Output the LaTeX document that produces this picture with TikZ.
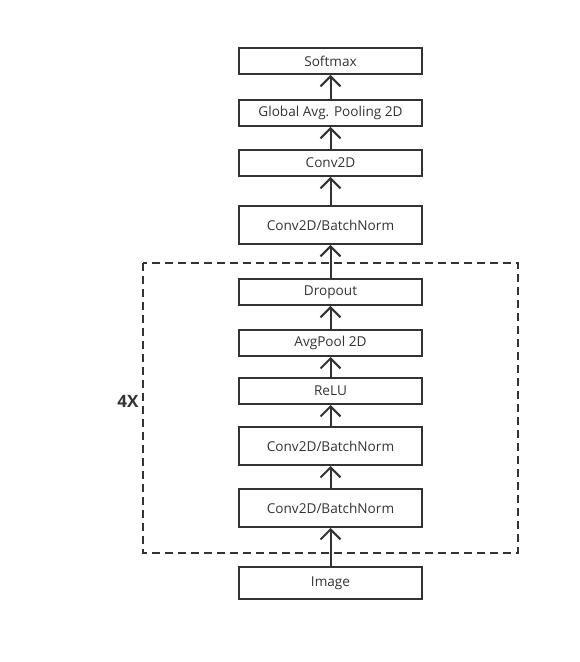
\documentclass[tikz,border=0pt]{standalone}
\usepackage{fontspec}
\setmainfont{Open Sans}
\usetikzlibrary{arrows.meta}
\definecolor{ink}{HTML}{333333}
\tikzset{
  layer/.style={draw=ink, line width=2pt, minimum width=183pt, inner sep=0pt, text=ink, font=\fontsize{13.6}{16}\selectfont},
  flow/.style={draw=ink, line width=2pt, -{Straight Barb[length=10pt,width=20pt]}}
}
\begin{document}
\begin{tikzpicture}[x=1pt,y=1pt]
\useasboundingbox (0,0) rectangle (580,662);
%\draw[step=50,gray,very thin] (0,0) grid (580,662);
\node[layer, minimum height=26pt] (softmax) at (330.5,601) {Softmax};
\node[layer, minimum height=26pt] (gap) at (330.5,549) {Global Avg. Pooling 2D};
\node[layer, minimum height=26pt] (conv) at (330.5,499) {Conv2D};
\node[layer, minimum height=38pt] (cbnTop) at (330.5,437) {Conv2D/BatchNorm};
\node[layer, minimum height=26pt] (drop) at (330.5,370) {Dropout};
\node[layer, minimum height=26pt] (pool) at (330.5,319) {AvgPool 2D};
\node[layer, minimum height=26pt] (relu) at (330.5,271) {ReLU};
\node[layer, minimum height=38pt] (cbnB) at (330.5,216) {Conv2D/BatchNorm};
\node[layer, minimum height=38pt] (cbnA) at (330.5,154) {Conv2D/BatchNorm};
\node[layer, minimum height=32pt] (image) at (330.5,79) {Image};
\draw[ink, line width=2pt, dash pattern=on 8pt off 5pt] (143,399) rectangle (518,109);
\node[text=ink, font=\fontsize{17}{19}\selectfont\bfseries] (repeat) at (128,261) {4X};
\draw[flow] (image) -- (cbnA);
\draw[flow] (cbnA) -- (cbnB);
\draw[flow] (cbnB) -- (relu);
\draw[flow] (relu) -- (pool);
\draw[flow] (pool) -- (drop);
\draw[flow] (drop) -- (cbnTop);
\draw[flow] (cbnTop) -- (conv);
\draw[flow] (conv) -- (gap);
\draw[flow] (gap) -- (softmax);
\end{tikzpicture}
\end{document}
